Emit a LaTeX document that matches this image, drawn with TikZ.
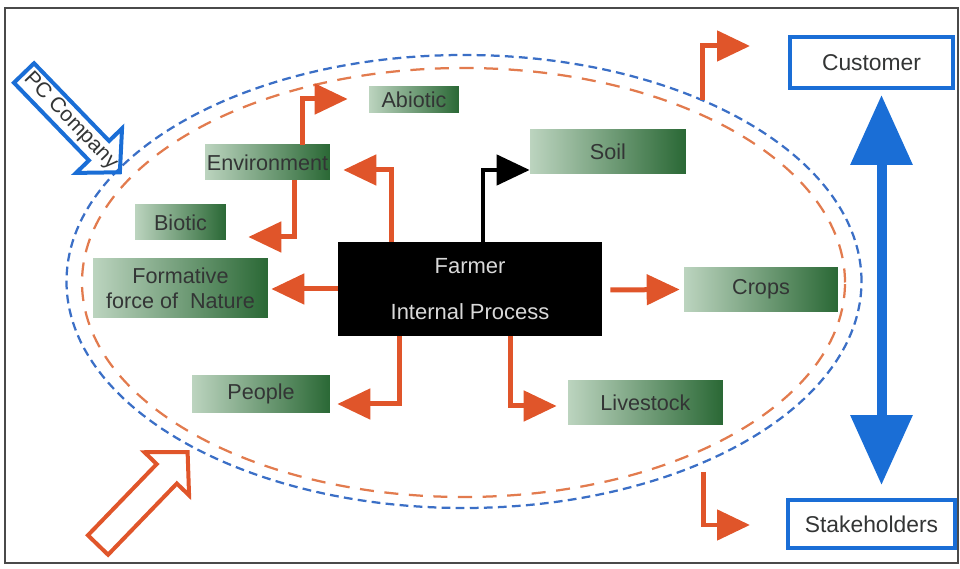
\documentclass[tikz,border=0pt]{standalone}
\usepackage{fontspec}
\setmainfont{Liberation Sans}
\usetikzlibrary{arrows.meta}
\usetikzlibrary{calc}
\usetikzlibrary{positioning}

\definecolor{flowred}{HTML}{E0552A}
\definecolor{rimblue}{HTML}{3B6FC6}
\definecolor{rimred}{HTML}{E27B4E}
\definecolor{pcblue}{HTML}{1A6ED6}
\definecolor{boxlight}{HTML}{BCD4BF}
\definecolor{boxdark}{HTML}{2A6835}
\definecolor{boxtext}{HTML}{333535}
\definecolor{framegray}{HTML}{4A4A4A}

\begin{document}
\begin{tikzpicture}[x=0.02cm,y=0.02cm,
    box/.style={left color=boxlight, right color=boxdark, text=boxtext, inner sep=0pt,
      align=center, font=\fontsize{12.3}{14}\selectfont},
    partner/.style={draw=pcblue, line width=0.08cm, fill=white, text=boxtext, inner sep=0pt,
      font=\fontsize{13}{15}\selectfont},
    flow/.style={draw=flowred, line width=0.1cm, -{Triangle[length=0.66cm,width=0.6cm]}},
    blackflow/.style={draw=black, line width=0.09cm, -{Triangle[length=0.66cm,width=0.6cm]}},
    rim/.style={line width=0.045cm, dash pattern=on 5pt off 3pt}]
    \useasboundingbox (0,0) rectangle (960,568);
    \draw[framegray, line width=0.04cm] (5,5) rectangle (958,560);

    \draw[rim, rimblue] (464,286.5) ellipse [x radius=397.5, y radius=226.5];
    \draw[rim, rimred, dash pattern=on 8pt off 6pt] (463.5,285.5) ellipse [x radius=381.5, y radius=214.5];

    \node[box, minimum width=1.8cm, minimum height=0.52cm] (abiotic) at (414,468) {Abiotic};
    \node[box, minimum width=2.5cm, minimum height=0.7cm] (env) at (267.5,405.5) {Environment};
    \node[box, minimum width=3.12cm, minimum height=0.88cm] (soil) at (608,416) {Soil};
    \node[box, minimum width=1.82cm, minimum height=0.7cm] (biotic) at (180.5,345.5) {Biotic};
    \node[box, minimum width=3.5cm, minimum height=1.2cm] (formative) at (180.5,280) {Formative\\force of\ \ Nature};
    \node[box, minimum width=3.08cm, minimum height=0.9cm] (crops) at (761,278.5) {Crops};
    \node[box, minimum width=2.76cm, minimum height=0.76cm] (people) at (261,174) {People};
    \node[box, minimum width=3.1cm, minimum height=0.9cm] (livestock) at (645.5,165.5) {Livestock};
    \node[fill=black, text=white!85!black, minimum width=5.28cm, minimum height=1.88cm, align=center,
      font=\fontsize{12.5}{15}\selectfont] (farmer) at (470,279) {Farmer\\[11pt]Internal Process};

    \node[partner, minimum width=3.26cm, minimum height=1.02cm] (customer) at (871.5,505.5) {Customer};
    \node[partner, minimum width=3.34cm, minimum height=0.96cm] (stakeholders) at (871.5,44) {Stakeholders};

    \draw[flow] ($(env.north)+(34.5,0)$) |- ($(abiotic.west)+(-21,1)$);
    \draw[flow] ($(farmer.north)+(-79,0)$) |- ($(env.east)+(13,-7.5)$);
    \draw[flow] ($(env.south)+(26.5,0)$) |- ($(biotic.east)+(22,-14.5)$);
    \draw[blackflow] ($(farmer.north)+(13,0)$) |- ($(soil.west)+(0,-18)$);
    \draw[flow] (farmer.west) -- ($(formative.east)+(3,-1)$);
    \draw[flow] ($(farmer.east)+(8,-1)$) -- ($(crops.west)+(-4,0)$);
    \draw[flow] ($(farmer.south)+(-71,0)$) |- ($(people.east)+(7,-10)$);
    \draw[flow] ($(farmer.south)+(40,0)$) |- ($(livestock.west)+(-11,-3.5)$);

    \coordinate (rimtop) at (702,468);
    \coordinate (outtop) at (750,522);
    \coordinate (rimbot) at (703,96);
    \coordinate (outbot) at (750,43);
    \draw[flow] (rimtop) |- (outtop);
    \draw[flow] (rimbot) |- (outbot);

    \draw[pcblue, line width=0.2cm, shorten <=0.1cm, shorten >=0.26cm,
      {Triangle[length=1.4cm,width=1.2cm]}-{Triangle[length=1.4cm,width=1.2cm]}]
      ($(customer.south)+(10,0)$) -- ($(stakeholders.north)+(10,0)$);

    \begin{scope}[shift={(24,495)}, rotate=-46]
      \draw[pcblue, line width=0.08cm] (0,-14) -- (108,-14) -- (108,-32) -- (138,0) -- (108,32) -- (108,14) -- (0,14) -- cycle;
      \node[rotate=-46, text=boxtext, font=\fontsize{12}{14}\selectfont] (pclabel) at (67,0) {PC Company};
    \end{scope}
    \begin{scope}[shift={(98,23)}, rotate=46]
      \draw[flowred, line width=0.08cm] (0,-14) -- (99,-14) -- (99,-31) -- (129,0) -- (99,31) -- (99,14) -- (0,14) -- cycle;
    \end{scope}
\end{tikzpicture}
\end{document}
